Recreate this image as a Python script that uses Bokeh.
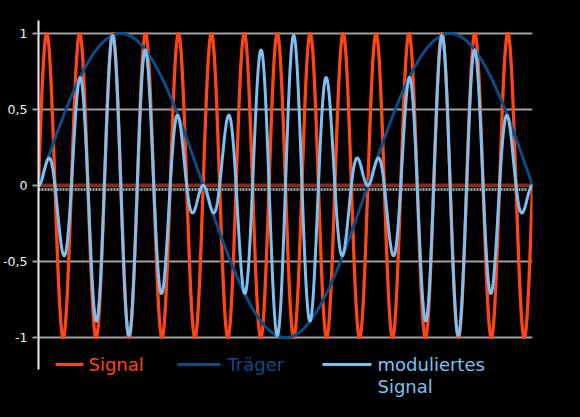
import numpy as np
from bokeh.plotting import figure
from bokeh.models import FixedTicker, Range1d
from bokeh.core.properties import value
from bokeh.embed import file_html
from bokeh.resources import INLINE

# ---- data ----
carrier_periods = 1.5      # Träger: 1.5 periods across the plot
signal_periods = 15        # Signal: 15 periods across the plot
n_samples = 2000
y_ticks = [-1, -0.5, 0, 0.5, 1]
y_tick_labels = ["-1", "-0,5", "0", "0,5", "1"]
series_names = ["Signal", "Träger", "moduliertes Signal"]
series_colors = ["#ff4511", "#0b4c86", "#7cc0f2"]

t = np.linspace(0.0, 1.0, n_samples)
carrier = np.sin(2 * np.pi * carrier_periods * t)
signal = np.sin(2 * np.pi * signal_periods * t)
modulated = carrier * signal

# ---- layout helpers (pixel -> data) ----
FL, FR, Y0, UNIT = 38, 532, 185, 152
def px2x(px):
    return (px - FL) / (FR - FL)
def py2y(py):
    return (Y0 - py) / UNIT

W, H = 580, 417
top_px, bot_px = 20, 405
p = figure(width=W, height=H, output_backend="svg", toolbar_location=None,
           x_range=Range1d(0, 1), y_range=Range1d(py2y(bot_px), py2y(top_px)),
           min_border_left=FL, min_border_right=W - FR,
           min_border_top=top_px, min_border_bottom=H - bot_px)
p.background_fill_color = "black"
p.border_fill_color = "black"
p.outline_line_color = None
p.xaxis.visible = False
p.xgrid.visible = False

p.ygrid.ticker = FixedTicker(ticks=y_ticks)
p.ygrid.grid_line_color = "#a0a0a0"
p.ygrid.grid_line_width = 2

ax = p.yaxis[0]
ax.ticker = FixedTicker(ticks=y_ticks)
ax.major_label_overrides = {v: l for v, l in zip(y_ticks, y_tick_labels)}
ax.bounds = (py2y(369), py2y(20))
ax.axis_line_color = "#f0f0f0"
ax.axis_line_width = 2
ax.major_tick_out = 6
ax.major_tick_in = 0
ax.major_tick_line_color = "#a0a0a0"
ax.major_tick_line_width = 2
ax.minor_tick_line_color = None
ax.major_label_standoff = 5
ax.major_label_text_color = "#f4f4f4"
ax.major_label_text_font = "DejaVu Sans"
ax.major_label_text_font_size = "12.5px"

# zero lines
p.segment(x0=[0], y0=[py2y(184.5)], x1=[1], y1=[py2y(184.5)],
          line_color="#8a2a12", line_width=3)
p.segment(x0=[0], y0=[py2y(189)], x1=[px2x(527)], y1=[py2y(189)],
          line_color="#a0a0a0", line_width=3, line_dash="2 1")

# curves
p.line(t, signal, line_color=series_colors[0], line_width=3.3)
p.line(t, carrier, line_color=series_colors[1], line_width=3)
p.line(t, modulated, line_color=series_colors[2], line_width=3)

# legend (manual)
leg_line = [(55, 83), (177, 220), (322, 371)]
leg_text_x = [88, 227, 377]
for i, name in enumerate(series_names):
    x0, x1 = leg_line[i]
    p.segment(x0=[px2x(x0)], y0=[py2y(364)], x1=[px2x(x1)], y1=[py2y(364)],
              line_color=series_colors[i], line_width=3)
    words = name.split(" ") if i == 2 else [name]
    for j, w in enumerate(words):
        p.text(x=[px2x(leg_text_x[i])], y=[py2y(364 + 21.5 * j)], text=[w],
               text_color=series_colors[i], text_font=value("DejaVu Sans"),
               text_font_size="18px", text_baseline="alphabetic", text_align="left")

html = file_html(p, INLINE)
html = html.replace("</head>", "<style>html,body{background:#000;margin:0;overflow:hidden}</style></head>", 1)
open("out.html", "w").write(html)
